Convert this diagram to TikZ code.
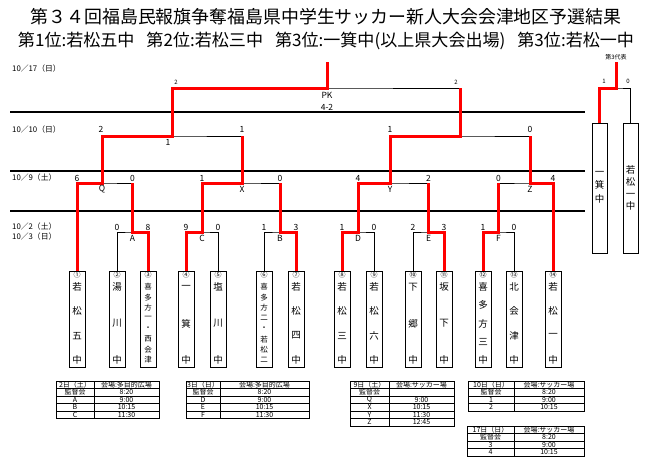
\documentclass[tikz,border=0pt]{standalone}
\usepackage{fontspec}
\setmainfont{Noto Sans CJK JP}
\usepackage{graphicx}
\newcommand\fs[1]{\fontsize{#1}{#1}\selectfont}
\newcommand\vtxt[5]{%
  \foreach \ch [count=\k] in {#5} {%
    \pgfmathsetmacro\yy{287+(\k-1)*73/(#3-1)}%
    \node[#4] (#1-\k) at (#2,\yy) {\ch};%
  }}
\newcommand\tbl[7]{% name, x0, xm, x1, y0, nrows, rows
  \foreach \tcL/\tcR [count=\k] in {#7} {%
    \node[cell] (#1-\k-l) at ({(#2+#3)/2},{#5+(\k-0.5)*7.5}) {\tcL};
    \node[cell] (#1-\k-r) at ({(#3+#4)/2},{#5+(\k-0.5)*7.5}) {\tcR};
    \draw[line width=0.6pt] (#2,{#5+\k*7.5}) -- (#4,{#5+\k*7.5});
  }%
  \draw[line width=0.7pt] (#3,#5) -- (#3,{#5+#6*7.5});
  \draw[line width=1pt] (#2,#5) rectangle (#4,{#5+#6*7.5});
}
\begin{document}
\begin{tikzpicture}[x=1pt,y=-1pt,
  blk/.style={line width=0.9pt},
  sepline/.style={line width=1.2pt},
  redl/.style={line width=3pt, red, line join=miter},
  teambox/.style={draw, line width=1pt, minimum width=16pt, minimum height=96pt, inner sep=0pt},
  sidebox/.style={draw, line width=1pt, minimum width=15pt, minimum height=130pt, inner sep=0pt},
  num/.style={font=\fs{8.5}, inner sep=0pt},
  tinynum/.style={font=\fs{6}, inner sep=0pt},
  datelbl/.style={font=\fs{7.8}, anchor=west, inner sep=0pt},
  circ/.style={font=\fs{7}, inner sep=0pt},
  vch/.style={font=\fs{9.5}, inner sep=0pt},
  vsm/.style={font=\fs{7.5}, inner sep=0pt},
  cell/.style={font=\fs{7}, inner sep=0pt},
]
\useasboundingbox (0,0) rectangle (655,475);

% titles
\node[font=\fs{17.9}, inner sep=0pt] (title) at (326,17) {第３４回福島民報旗争奪福島県中学生サッカー新人大会会津地区予選結果};
\node[inner sep=0pt] (subtitle) at (326,41) {\resizebox{616pt}{!}{\fs{16}第1位:若松五中\hspace{0.7em}第2位:若松三中\hspace{0.7em}第3位:一箕中(以上県大会出場)\hspace{0.7em}第3位:若松一中}};

% dates
\node[datelbl] (d17) at (12,69) {10／17（日）};
\node[datelbl] (d10) at (12,130) {10／10（日）};
\node[datelbl] (d9) at (12,178) {10／9（土）};
\node[datelbl] (d2) at (12,227) {10／2（土）};
\node[datelbl] (d3) at (12,237) {10／3（日）};

% separators
\coordinate (s1a) at (10,112); \coordinate (s1b) at (585,112);
\coordinate (s2a) at (10,171); \coordinate (s2b) at (585,171);
\coordinate (s3a) at (10,211); \coordinate (s3b) at (585,211);
\draw[sepline] (s1a) -- (s1b);
\draw[sepline] (s2a) -- (s2b);
\draw[sepline] (s3a) -- (s3b);

% team boxes
\foreach \i/\x in {1/77,2/117,3/148,4/186,5/218,6/264,7/296,8/342,9/374,10/413,11/444,12/483,13/514,14/553}{
  \node[teambox] (b\i) at (\x,319) {};
}
\node[circ] (c1) at (77,275) {①};
\node[circ] (c2) at (117,275) {②};
\node[circ] (c3) at (148,275) {③};
\node[circ] (c4) at (186,275) {④};
\node[circ] (c5) at (218,275) {⑤};
\node[circ] (c6) at (264,275) {⑥};
\node[circ] (c7) at (296,275) {⑦};
\node[circ] (c8) at (342,275) {⑧};
\node[circ] (c9) at (374,275) {⑨};
\node[circ] (c10) at (413,275) {⑩};
\node[circ] (c11) at (444,275) {⑪};
\node[circ] (c12) at (483,275) {⑫};
\node[circ] (c13) at (514,275) {⑬};
\node[circ] (c14) at (553,275) {⑭};

\vtxt{n1}{77}{4}{vch}{若,松,五,中}
\vtxt{n2}{117}{3}{vch}{湯,川,中}
\vtxt{n3}{148}{8}{vsm}{喜,多,方,一,・,西,会,津}
\vtxt{n4}{186}{3}{vch}{一,箕,中}
\vtxt{n5}{218}{3}{vch}{塩,川,中}
\vtxt{n6}{264}{8}{vsm}{喜,多,方,二,・,若,松,二}
\vtxt{n7}{296}{4}{vch}{若,松,四,中}
\vtxt{n8}{342}{4}{vch}{若,松,三,中}
\vtxt{n9}{374}{4}{vch}{若,松,六,中}
\vtxt{n10}{413}{3}{vch}{下,郷,中}
\vtxt{n11}{444}{3}{vch}{坂,下,中}
\vtxt{n12}{483}{5}{vch}{喜,多,方,三,中}
\vtxt{n13}{514}{4}{vch}{北,会,津,中}
\vtxt{n14}{553}{4}{vch}{若,松,一,中}

% side boxes (third place)
\node[sidebox] (b15) at (599.5,188) {};
\node[sidebox] (b16) at (630.5,188) {};
\node[font=\fontsize{9.5}{13.5}\selectfont, align=center, inner sep=0pt] (n15) at (599.5,187) {一\\箕\\中};
\node[font=\fontsize{9.5}{12}\selectfont, align=center, inner sep=0pt] (n16) at (630.5,188) {若\\松\\一\\中};

% match points
\coordinate (A) at (132.5,232);
\coordinate (C) at (202,232);
\coordinate (B) at (280,232);
\coordinate (D) at (358,232);
\coordinate (E) at (428.5,232);
\coordinate (F) at (498.5,232);
\coordinate (Q) at (102,183);
\coordinate (X) at (242,183);
\coordinate (Y) at (390,183);
\coordinate (Z) at (530,183);
\coordinate (S1) at (172,136);
\coordinate (S2) at (460,136);
\coordinate (Fn) at (327,88);
\coordinate (Ftop) at (327,62);
\coordinate (T) at (616,88);
\coordinate (Ttop) at (616,62);

% black bracket
\draw[blk] (b2.north) |- (A) -| (b3.north);
\draw[blk] (b4.north) |- (C) -| (b5.north);
\draw[blk] (b6.north) |- (B) -| (b7.north);
\draw[blk] (b8.north) |- (D) -| (b9.north);
\draw[blk] (b10.north) |- (E) -| (b11.north);
\draw[blk] (b12.north) |- (F) -| (b13.north);
\draw[blk] (b1.north) |- (Q) -| (A);
\draw[blk] (C) |- (X) -| (B);
\draw[blk] (D) |- (Y) -| (E);
\draw[blk] (F) |- (Z) -| (b14.north);
\draw[blk] (Q) |- (S1) -| (X);
\draw[blk] (Y) |- (S2) -| (Z);
\draw[blk] (S1) |- (Fn) -| (S2);
\draw[blk] (b15.north) |- (T) -| (b16.north);

% red winner paths
\draw[redl] (b1.north) |- (Q) |- (S1) |- (Fn) -- (Ftop);
\draw[redl] (b3.north) |- (A) -- (A |- Q);
\draw[redl] (b4.north) |- (C) |- (X) -- (X |- S1);
\draw[redl] (b7.north) |- (B) -- (B |- Q);
\draw[redl] (b8.north) |- (D) |- (Y) |- (S2) -- (S2 |- Fn);
\draw[redl] (b11.north) |- (E) -- (E |- Q);
\draw[redl] (b12.north) |- (F) -- (F |- Q);
\draw[redl] (b14.north) |- (Z) -- (Z |- S1);
\draw[redl] (b15.north) |- (T) -- (Ttop);

% first round scores and letters
\foreach \nm/\x/\s in {r2/117/0,r3/148/8,r4/186/9,r5/218/0,r6/264/1,r7/296/3,r8/342/1,r9/374/0,r10/413/2,r11/444/3,r12/483/1,r13/514/0}{
  \node[num] (\nm) at (\x,227) {\s};
}
\node[num] (lA) at (132.5,238.5) {A};
\node[num] (lC) at (202,238.5) {C};
\node[num] (lB) at (280,238.5) {B};
\node[num] (lD) at (358,238.5) {D};
\node[num] (lE) at (428.5,238.5) {E};
\node[num] (lF) at (498.5,238.5) {F};

% quarter final scores and letters
\foreach \nm/\x/\s in {q1/77/6,q2/132.5/0,q3/202/1,q4/280/0,q5/358/4,q6/428.5/2,q7/498.5/0,q8/553/4}{
  \node[num] (\nm) at (\x,178) {\s};
}
\node[num] (lQ) at (102,189) {Q};
\node[num] (lX) at (242,189) {X};
\node[num] (lY) at (390,189) {Y};
\node[num] (lZ) at (530,189) {Z};

% semi final
\node[num] (sf1) at (101,129) {2};
\node[num] (sf2) at (242,129) {1};
\node[num] (sf3) at (390,129) {1};
\node[num] (sf4) at (530,129) {0};
\node[num] (m1) at (168,142.5) {1};

% final
\node[tinynum] (f1) at (176,82) {2};
\node[tinynum] (f2) at (456,82) {2};
\node[num] (pk) at (327,95) {PK};
\node[num] (pk2) at (327,107) {4-2};

% third place
\node[tinynum] (t1) at (604,81) {1};
\node[tinynum] (t2) at (628,81) {0};
\node[tinynum] (rep) at (616,57) {第3代表};

% tables
\tbl{tA}{56}{94}{159}{381}{5}{2日（土）/会場:多目的広場,監督会/8:20,A/9:00,B/10:15,C/11:30}
\tbl{tB}{186}{220}{309}{381}{5}{3日（日）/会場:多目的広場,監督会/8:20,D/9:00,E/10:15,F/11:30}
\tbl{tC}{350}{389}{454}{381}{6}{9日（土）/会場:サッカー場,監督会/{},Q/9:00,X/10:15,Y/11:30,Z/12:45}
\tbl{tD}{468}{514}{584}{381}{4}{10日（日）/会場:サッカー場,監督会/8:20,1/9:00,2/10:15}
\tbl{tE}{467}{514}{584}{426}{4}{17日（日）/会場:サッカー場,監督会/8:20,3/9:00,4/10:15}
\end{tikzpicture}
\end{document}
